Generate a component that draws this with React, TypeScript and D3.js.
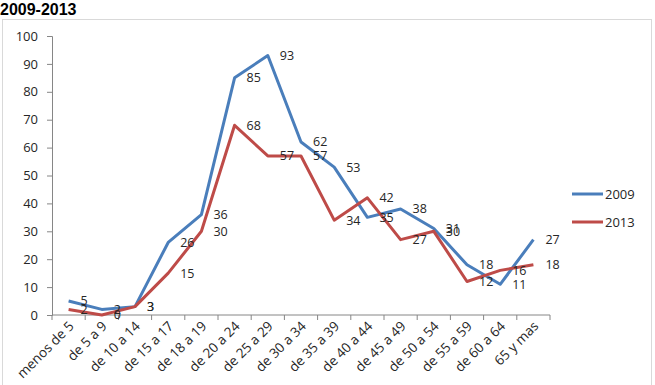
import React, { useEffect, useRef } from 'react';
import * as d3 from 'd3';

// age groups on the x axis
const ageGroups = [
  'menos de 5', 'de 5 a 9', 'de 10 a 14', 'de 15 a 17', 'de 18 a 19',
  'de 20 a 24', 'de 25 a 29', 'de 30 a 34', 'de 35 a 39', 'de 40 a 44',
  'de 45 a 49', 'de 50 a 54', 'de 55 a 59', 'de 60 a 64', '65 y mas',
];

const values2009 = [5, 2, 3, 26, 36, 85, 93, 62, 53, 35, 38, 31, 18, 11, 27];
const values2013 = [2, 0, 3, 15, 30, 68, 57, 57, 34, 42, 27, 30, 12, 16, 18];

const yTicks = [0, 10, 20, 30, 40, 50, 60, 70, 80, 90, 100];

const seriesList = [
  { name: '2009', values: values2009, color: '#4A7EBB' },
  { name: '2013', values: values2013, color: '#BE4B48' },
];

const width = 655;
const height = 385;
const font = '"Open Sans", sans-serif';

export default function App() {
  const svgRef = useRef<SVGSVGElement | null>(null);

  useEffect(() => {
    if (!svgRef.current) return;
    const svg = d3.select(svgRef.current);
    svg.selectAll('*').remove();

    // outer chart frame
    svg.append('rect')
      .attr('x', 2.5)
      .attr('y', 19.5)
      .attr('width', 649)
      .attr('height', 380)
      .attr('fill', '#fff')
      .attr('stroke', '#d9d9d9');

    svg.append('text')
      .attr('x', 0)
      .attr('y', 15)
      .style('font-family', '"Liberation Sans", Arial, sans-serif')
      .style('font-size', '16px')
      .style('font-weight', 'bold')
      .attr('fill', '#000')
      .text('2009-2013');

    const x = d3.scaleBand().domain(ageGroups).range([52, 550]);
    const y = d3.scaleLinear().domain([0, 100]).range([315, 36]);
    const cx = (i: number) => (x(ageGroups[i]) as number) + x.bandwidth() / 2;

    // y axis
    const yAxis = d3.axisLeft(y).tickValues(yTicks).tickSize(5).tickPadding(9).tickSizeOuter(5);
    const gy = svg.append('g').attr('transform', 'translate(52,0)').call(yAxis);
    gy.selectAll('path, line').attr('stroke', '#868686');
    gy.selectAll('text')
      .style('font-family', font)
      .style('font-size', '13px')
      .attr('fill', '#262626');

    // x axis with ticks between categories
    svg.append('line')
      .attr('x1', 52).attr('x2', 550)
      .attr('y1', 315).attr('y2', 315)
      .attr('stroke', '#868686');
    const bounds = ageGroups.map(d => x(d) as number).concat([550]);
    svg.append('g')
      .selectAll('line')
      .data(bounds)
      .join('line')
      .attr('x1', d => d).attr('x2', d => d)
      .attr('y1', 315).attr('y2', 320)
      .attr('stroke', '#868686');

    svg.append('g')
      .selectAll('text')
      .data(ageGroups)
      .join('text')
      .attr('transform', (_d, i) => `translate(${cx(i) + 6},${327}) rotate(-45)`)
      .attr('text-anchor', 'end')
      .style('font-family', font)
      .style('font-size', '13.5px')
      .attr('fill', '#262626')
      .text(d => d);

    const line = d3.line<number>()
      .x((_d, i) => cx(i))
      .y(d => y(d));

    seriesList.forEach(s => {
      svg.append('path')
        .datum(s.values)
        .attr('fill', 'none')
        .attr('stroke', s.color)
        .attr('stroke-width', 3)
        .attr('stroke-linejoin', 'round')
        .attr('d', line);
    });

    // value labels, right of each point
    seriesList.forEach(s => {
      svg.append('g')
        .selectAll('text')
        .data(s.values)
        .join('text')
        .attr('x', (_d, i) => cx(i) + 12)
        .attr('y', d => y(d))
        .attr('dy', '0.35em')
        .style('font-family', font)
        .style('font-size', '12.5px')
        .attr('fill', '#262626')
        .text(d => d);
    });

    // legend
    const legend = svg.append('g').attr('transform', 'translate(572,194)');
    seriesList.forEach((s, i) => {
      const row = legend.append('g').attr('transform', `translate(0,${i * 28})`);
      row.append('line')
        .attr('x1', 0).attr('x2', 31)
        .attr('stroke', s.color)
        .attr('stroke-width', 3);
      row.append('text')
        .attr('x', 33)
        .attr('dy', '0.35em')
        .style('font-family', font)
        .style('font-size', '13px')
        .attr('fill', '#262626')
        .text(s.name);
    });
  }, []);

  return (
    <svg
      ref={svgRef}
      width={width}
      height={height}
      style={{ position: 'absolute', left: 0, top: 0, background: '#fff' }}
    />
  );
}
